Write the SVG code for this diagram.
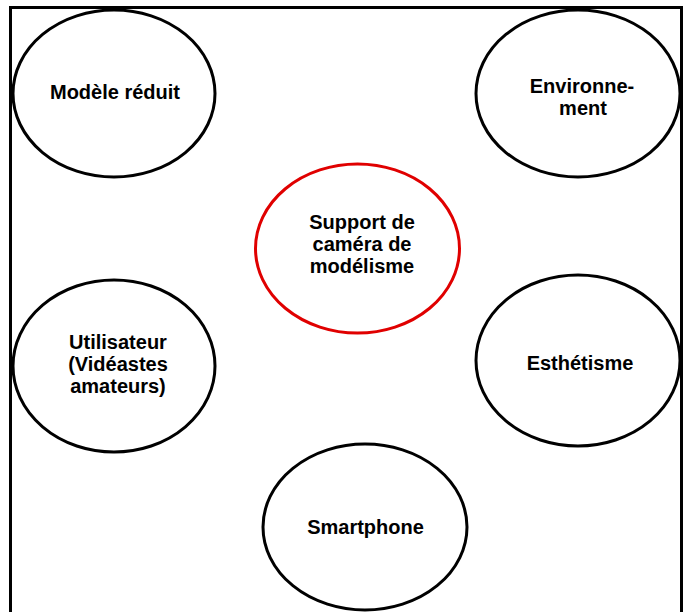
<svg xmlns="http://www.w3.org/2000/svg" width="687" height="612" viewBox="0 0 687 612">
  <style>
    .frame { fill: none; stroke: #000; stroke-width: 3; }
    .node { fill: #fff; stroke: #000; stroke-width: 3; }
    .core { fill: #fff; stroke: #e00000; stroke-width: 3; }
    .label { font-family: "Liberation Sans", Arial, sans-serif; font-weight: bold; font-size: 20px; fill: #000; text-anchor: middle; }
  </style>
  <rect x="0" y="0" width="687" height="612" fill="#fff"/>
  <!-- outer frame, open at the bottom edge -->
  <rect class="frame" x="10.5" y="7.5" width="671" height="620"/>

  <g id="modele-reduit">
    <ellipse class="node" cx="114" cy="93.5" rx="101" ry="83.5"/>
    <text class="label" x="115" y="99">Modèle réduit</text>
  </g>

  <g id="environnement">
    <ellipse class="node" cx="578" cy="93.5" rx="102" ry="83.5"/>
    <text class="label" x="582" y="93">Environne-</text>
    <text class="label" x="583" y="115">ment</text>
  </g>

  <g id="support-camera">
    <ellipse class="core" cx="357.5" cy="248.5" rx="102" ry="84.5"/>
    <text class="label" x="362" y="229">Support de</text>
    <text class="label" x="362" y="251">caméra de</text>
    <text class="label" x="362" y="273">modélisme</text>
  </g>

  <g id="utilisateur">
    <ellipse class="node" cx="114" cy="366" rx="101" ry="86"/>
    <text class="label" x="118" y="349">Utilisateur</text>
    <text class="label" x="118" y="371">(Vidéastes</text>
    <text class="label" x="118" y="393">amateurs)</text>
  </g>

  <g id="esthetisme">
    <ellipse class="node" cx="578" cy="360.5" rx="102" ry="85.5"/>
    <text class="label" x="580" y="370">Esthétisme</text>
  </g>

  <g id="smartphone">
    <ellipse class="node" cx="365" cy="527" rx="102" ry="83"/>
    <text class="label" x="365.5" y="534">Smartphone</text>
  </g>

  <g id="connectors"></g>
</svg>
